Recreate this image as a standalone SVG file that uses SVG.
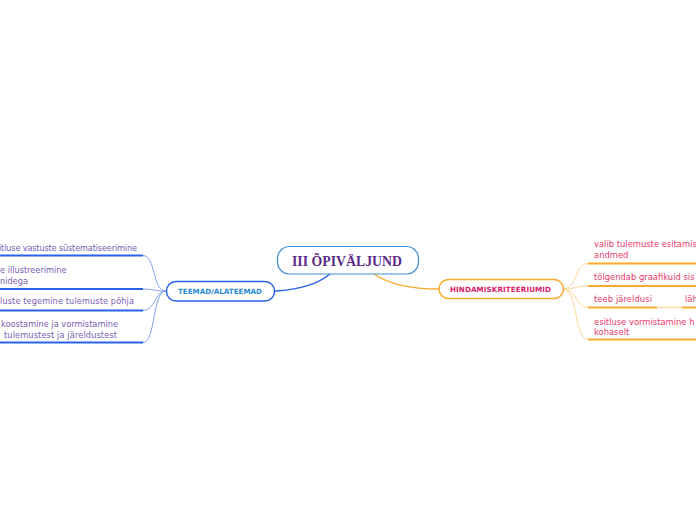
<svg xmlns="http://www.w3.org/2000/svg" width="696" height="520" viewBox="0 0 696 520">
<style>
.lt{font-family:"DejaVu Sans","Liberation Sans",sans-serif;font-size:8.2px;fill:#7a5db4}
.rt{font-family:"DejaVu Sans","Liberation Sans",sans-serif;font-size:8.4px;fill:#e8386a}
.bl{stroke:#2b62ea;stroke-width:2;fill:none}
.blc{stroke:#86a3f2;stroke-width:1;fill:none}
.or{stroke:#f9a92b;stroke-width:2;fill:none}
.orc{stroke:#fdd595;stroke-width:1;fill:none}
</style>
<rect width="696" height="520" fill="#ffffff"/>
<g id="connectors">
<path d="M330,274 Q312,289 275,291" stroke="#2b62ea" stroke-width="1.5" fill="none"/>
<path d="M374,274 Q396,289 439,289" stroke="#f9a92b" stroke-width="1.5" fill="none"/>
<path class="blc" d="M166,291 C152,291 156,255.5 143,255.5"/>
<path class="blc" d="M166,291 C156,291 152,289 143,289"/>
<path class="blc" d="M166,291 C154,291 156,310.5 143,310.5"/>
<path class="blc" d="M166,291 C152,291 156,342.5 143,342.5"/>
<path class="orc" d="M563,289 C578,289 574,263.5 588,263.5"/>
<path class="orc" d="M563,289 C576,289 576,286 588,286"/>
<path class="orc" d="M563,289 C576,289 576,307.5 588,307.5"/>
<path class="orc" d="M563,289 C578,289 574,339.5 588,339.5"/>
<path d="M657,307.5 L682,307.5" stroke="#fde2b8" stroke-width="2" fill="none"/>
</g>
<g id="central">
<rect x="277.5" y="246.5" width="141" height="27.5" rx="12" fill="#ffffff" stroke="#3d8fd6" stroke-width="1.2"/>
<text x="292" y="265.5" textLength="110" lengthAdjust="spacingAndGlyphs" font-family="'Liberation Serif','Times New Roman',serif" font-weight="bold" font-size="14" fill="#5b2a86">III ÕPIVÄLJUND</text>
</g>
<g id="teemad">
<rect x="166.5" y="281.5" width="108" height="19.5" rx="9.5" fill="#ffffff" stroke="#2b62ea" stroke-width="1.5"/>
<text x="178" y="294" textLength="84" lengthAdjust="spacing" font-family="'DejaVu Sans','Liberation Sans',sans-serif" font-weight="bold" font-size="7.2" fill="#2a8bd8">TEEMAD/ALATEEMAD</text>
</g>
<g id="hindamis">
<rect x="439" y="279.5" width="124.5" height="19" rx="9.5" fill="#ffffff" stroke="#f9a92b" stroke-width="1.5"/>
<text x="450" y="292" textLength="101" lengthAdjust="spacing" font-family="'DejaVu Sans','Liberation Sans',sans-serif" font-weight="bold" font-size="7.2" fill="#d6206a">HINDAMISKRITEERIUMID</text>
</g>
<g id="l1">
<text class="lt" x="-1" y="251" textLength="138" lengthAdjust="spacing">itluse vastuste süstematiseerimine</text>
<path class="bl" d="M0,255.5 L143,255.5"/>
</g>
<g id="l2">
<text class="lt" x="0" y="273">e illustreerimine</text>
<text class="lt" x="0" y="283.5">nidega</text>
<path class="bl" d="M0,289 L143,289"/>
</g>
<g id="l3">
<text class="lt" x="0" y="304" textLength="134" lengthAdjust="spacing">luste tegemine tulemuste põhja</text>
<path class="bl" d="M0,310.5 L143,310.5"/>
</g>
<g id="l4">
<text class="lt" x="1" y="327" textLength="117" lengthAdjust="spacing">koostamine ja vormistamine</text>
<text class="lt" x="4" y="337.5" textLength="113" lengthAdjust="spacing">tulemustest ja järeldustest</text>
<path class="bl" d="M0,342.5 L143,342.5"/>
</g>
<g id="r1">
<text class="rt" x="594" y="247">valib tulemuste esitamis</text>
<text class="rt" x="594" y="257.5">andmed</text>
<path class="or" d="M588,263.5 L696,263.5"/>
</g>
<g id="r2">
<text class="rt" x="594" y="280">tõlgendab graafikuid sis</text>
<path class="or" d="M588,286 L696,286"/>
</g>
<g id="r3">
<text class="rt" x="594" y="302" textLength="58" lengthAdjust="spacing">teeb järeldusi</text>
<path class="or" d="M588,307.5 L657,307.5"/>
</g>
<g id="r3a">
<text class="rt" x="685" y="302">läh</text>
<path class="or" d="M682,307.5 L696,307.5"/>
</g>
<g id="r4">
<text class="rt" x="594" y="324.5">esitluse vormistamine h</text>
<text class="rt" x="594" y="334.5">kohaselt</text>
<path class="or" d="M588,339.5 L696,339.5"/>
</g>
</svg>
